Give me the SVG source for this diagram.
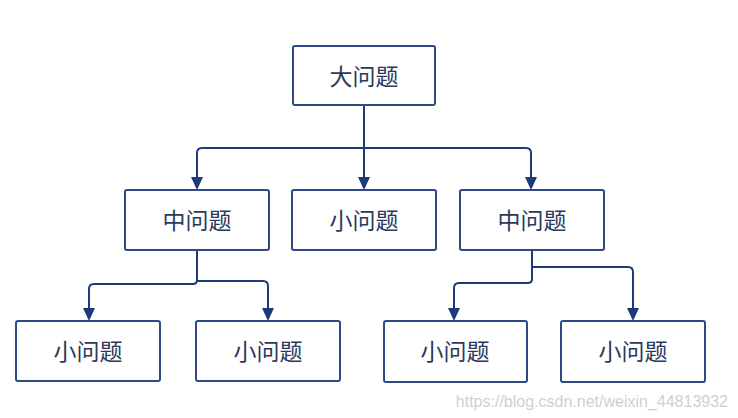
<svg xmlns="http://www.w3.org/2000/svg" width="738" height="418" viewBox="0 0 738 418">
<defs>
<style>
.box{fill:#fff;stroke:#2d4a85;stroke-width:2}
.lbl{font-family:"Noto Sans CJK SC","Noto Sans",sans-serif;font-size:23px;fill:#2b3a5c;text-anchor:middle;dominant-baseline:central}
.con{fill:none;stroke:#1d3a78;stroke-width:2}
.ah{fill:#1d3a78}
</style>
</defs>
<rect width="738" height="418" fill="#fff"/>
<g id="connectors">
<path class="con" d="M364,105 V148"/>
<path class="con" d="M364,148 H202 Q197,148 197,153 V178"/>
<path class="con" d="M364,148 H526 Q531,148 531,153 V178"/>
<path class="con" d="M364,148 V178"/>
<path class="con" d="M197,250 V280 Q197,284 193,284 H94 Q89,284 89,289 V309"/>
<path class="con" d="M197,281 H263 Q268,281 268,286 V309"/>
<path class="con" d="M532,250 V279 Q532,283 528,283 H459 Q454,283 454,288 V309"/>
<path class="con" d="M532,267 H628 Q633,267 633,272 V309"/>
<path class="ah" d="M191,177 L203,177 L197,190 Z"/>
<path class="ah" d="M358,177 L370,177 L364,190 Z"/>
<path class="ah" d="M525,177 L537,177 L531,190 Z"/>
<path class="ah" d="M83,308 L95,308 L89,321 Z"/>
<path class="ah" d="M262,308 L274,308 L268,321 Z"/>
<path class="ah" d="M448,308 L460,308 L454,321 Z"/>
<path class="ah" d="M627,308 L639,308 L633,321 Z"/>
</g>
<g id="n-top"><rect class="box" x="293" y="46" width="142" height="59" rx="2"/><text class="lbl" x="364" y="75">大问题</text></g>
<g id="n-mid-left"><rect class="box" x="125" y="190" width="144" height="60" rx="2"/><text class="lbl" x="197" y="219">中问题</text></g>
<g id="n-mid-center"><rect class="box" x="292" y="190" width="144" height="60" rx="2"/><text class="lbl" x="364" y="219">小问题</text></g>
<g id="n-mid-right"><rect class="box" x="460" y="190" width="144" height="60" rx="2"/><text class="lbl" x="532" y="219">中问题</text></g>
<g id="n-b1"><rect class="box" x="16" y="321" width="144" height="60" rx="2"/><text class="lbl" x="88" y="350">小问题</text></g>
<g id="n-b2"><rect class="box" x="196" y="321" width="144" height="60" rx="2"/><text class="lbl" x="268" y="350">小问题</text></g>
<g id="n-b3"><rect class="box" x="384" y="321" width="143" height="61" rx="2"/><text class="lbl" x="455" y="350">小问题</text></g>
<g id="n-b4"><rect class="box" x="561" y="321" width="144" height="61" rx="2"/><text class="lbl" x="633" y="350">小问题</text></g>
<text x="728" y="407" text-anchor="end" font-family="Liberation Sans, Arial, sans-serif" font-size="16" fill="#d0d0d0">https://blog.csdn.net/weixin_44813932</text>
</svg>
